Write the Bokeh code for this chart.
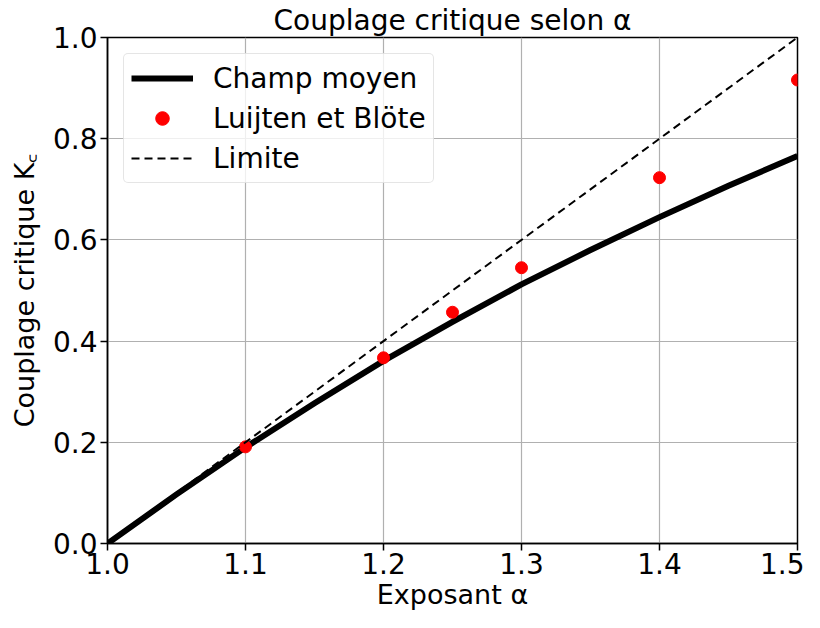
from bokeh.plotting import figure
from bokeh.models import Legend, LegendItem, FixedTicker, Range1d, PrintfTickFormatter
from bokeh.embed import file_html
from bokeh.resources import INLINE

# Mean-field curve
alpha_mf = [1.0, 1.05, 1.1, 1.15, 1.2, 1.25, 1.3, 1.35, 1.4, 1.45, 1.5]
kc_mf = [0.0, 0.097, 0.19, 0.277, 0.361, 0.438, 0.512, 0.580, 0.645, 0.707, 0.766]

# Luijten et Blöte points
alpha_lb = [1.1, 1.2, 1.25, 1.3, 1.4, 1.5]
kc_lb = [0.191, 0.367, 0.457, 0.545, 0.723, 0.916]

# Limit line
alpha_lim = [1.0, 1.5]
kc_lim = [0.0, 1.0]

x_ticks = [1.0, 1.1, 1.2, 1.3, 1.4, 1.5]
y_ticks = [0.0, 0.2, 0.4, 0.6, 0.8, 1.0]

FONT = "DejaVu Sans"
FS = "27px"
TFS = "28px"

p = figure(width=804, height=612, output_backend="svg", toolbar_location=None,
           x_range=Range1d(1.0, 1.5), y_range=Range1d(0.0, 1.0),
           min_border_left=107, min_border_right=7, min_border_top=35, min_border_bottom=66,
           title="Couplage critique selon α")
p.title.text_font = FONT
p.title.text_font_size = "28px"
p.title.text_font_style = "normal"
p.title.text_color = "black"
p.title.align = "center"
p.title.standoff = 2

p.outline_line_color = "black"
p.outline_line_width = 1.5
p.outline_line_alpha = 1.0

for ax in (p.xaxis[0], p.yaxis[0]):
    ax.major_label_text_font = FONT
    ax.major_label_text_font_size = TFS
    ax.major_label_text_color = "black"
    ax.axis_label_text_font = FONT
    ax.axis_label_text_font_size = FS
    ax.axis_label_text_font_style = "normal"
    ax.axis_label_text_color = "black"
    ax.axis_line_color = "black"
    ax.axis_line_width = 1.5
    ax.major_tick_in = 0
    ax.major_tick_out = 7
    ax.major_tick_line_width = 1.5
    ax.major_tick_line_color = "black"
    ax.minor_tick_line_color = None
    ax.major_label_standoff = 3
    ax.formatter = PrintfTickFormatter(format="%.1f")

p.xaxis.ticker = FixedTicker(ticks=x_ticks)
p.yaxis.ticker = FixedTicker(ticks=y_ticks)
p.xaxis.axis_label = "Exposant α"
p.yaxis.axis_label = "Couplage critique K꜀"
p.xaxis.axis_label_standoff = 2
p.xaxis.major_label_standoff = 2
p.yaxis.axis_label_standoff = 10

p.xgrid.grid_line_color = "#b0b0b0"
p.ygrid.grid_line_color = "#b0b0b0"
p.xgrid.grid_line_width = 1.2
p.ygrid.grid_line_width = 1.2

r_mf = p.line(alpha_mf, kc_mf, line_color="black", line_width=6, line_join="round")
r_lb = p.scatter(alpha_lb, kc_lb, marker="circle", size=12, fill_color="red", line_color="red")
r_lim = p.line(alpha_lim, kc_lim, line_color="black", line_width=2, line_dash="8 5")

legend = Legend(items=[
    LegendItem(label="Champ moyen", renderers=[r_mf]),
    LegendItem(label="Luijten et Blöte", renderers=[r_lb]),
    LegendItem(label="Limite", renderers=[r_lim]),
], location="top_left")
legend.label_text_font = FONT
legend.label_text_font_size = "28px"
legend.label_text_color = "black"
legend.border_line_color = "#cccccc"
legend.border_line_width = 1
legend.border_radius = 5
legend.background_fill_alpha = 0.8
legend.glyph_width = 62
legend.glyph_height = 34
legend.label_standoff = 20
legend.spacing = 6
legend.padding = 7
legend.margin = 16
p.add_layout(legend)

open("out.html", "w").write(file_html(p, INLINE))
